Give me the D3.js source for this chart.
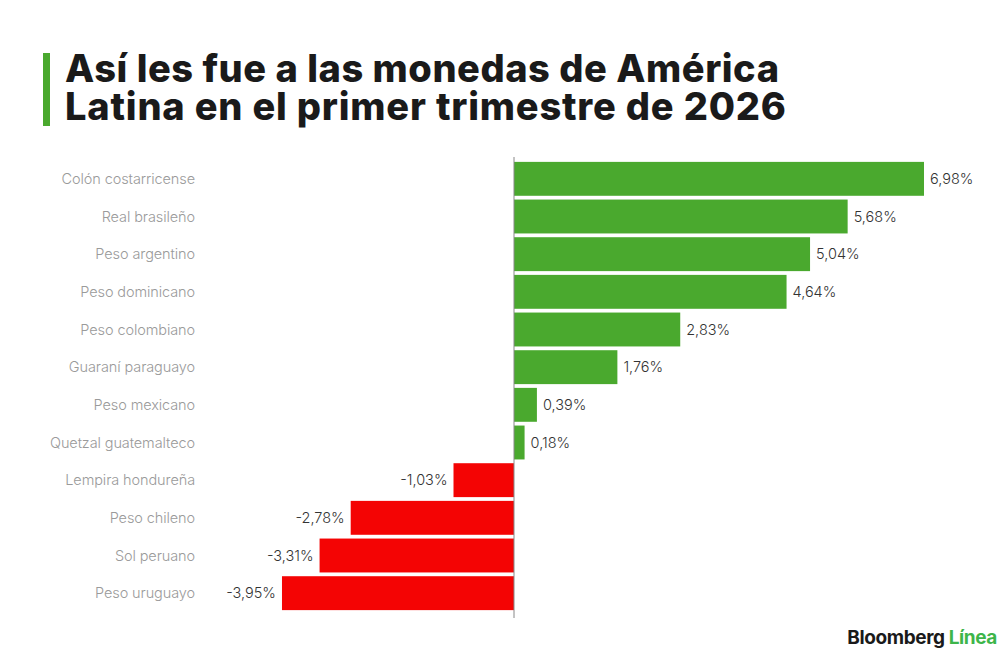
<!DOCTYPE html>
<html>
<head>
<meta charset="utf-8">
<script src="https://cdn.jsdelivr.net/npm/d3@7"></script>
<style>
  html, body { margin: 0; padding: 0; background: #fff; }
  svg { display: block; font-family: Inter, "Noto Sans", sans-serif; }
</style>
</head>
<body>
<svg id="chart" width="1000" height="660"></svg>
<script>
const titleLines = ["Así les fue a las monedas de América", "Latina en el primer trimestre de 2026"];
const titleWidths = [714, 721];

const currencies = [
  "Colón costarricense", "Real brasileño", "Peso argentino", "Peso dominicano",
  "Peso colombiano", "Guaraní paraguayo", "Peso mexicano", "Quetzal guatemalteco",
  "Lempira hondureña", "Peso chileno", "Sol peruano", "Peso uruguayo"
];
const changes = [6.98, 5.68, 5.04, 4.64, 2.83, 1.76, 0.39, 0.18, -1.03, -2.78, -3.31, -3.95];

const green = "#4aa92e";
const red = "#f40404";

const svg = d3.select("#chart");

const fmt = (v) => d3.format(".2f")(v).replace(".", ",").replace("−", "-") + "%";

// title
svg.append("rect")
  .attr("x", 43).attr("y", 53).attr("width", 7).attr("height", 73)
  .attr("fill", green);

svg.append("g")
  .selectAll("text")
  .data(titleLines)
  .join("text")
  .attr("x", 65)
  .attr("y", (d, i) => 82 + i * 38)
  .attr("font-size", 38)
  .attr("font-weight", 800)
  .attr("fill", "#1a1a1a")
  .text((d) => d)
  .each(function(d, i) {
    // nudge spacing so the line spans the same width as the original
    const w = this.getComputedTextLength();
    const extra = (titleWidths[i] - w) / (d.length - 1);
    d3.select(this).attr("letter-spacing", extra);
  });

// scales
const x = d3.scaleLinear().domain([0, 6.98]).range([514, 924]);
const y = d3.scaleBand()
  .domain(currencies)
  .range([160, 612])
  .paddingInner(0.1)
  .paddingOuter(0.05);

const rows = currencies.map((c, i) => ({ name: c, value: changes[i] }));

// labels on the left
svg.append("g")
  .selectAll("text")
  .data(rows)
  .join("text")
  .attr("x", 195)
  .attr("y", (d) => y(d.name) + y.bandwidth() / 2)
  .attr("dy", "0.35em")
  .attr("text-anchor", "end")
  .attr("font-size", 14.5)
  .attr("font-weight", 300)
  .attr("letter-spacing", -0.1)
  .attr("fill", "#9a9a9a")
  .text((d) => d.name);

// bars
svg.append("g")
  .selectAll("rect")
  .data(rows)
  .join("rect")
  .attr("x", (d) => Math.min(x(0), x(d.value)))
  .attr("y", (d) => y(d.name))
  .attr("width", (d) => Math.abs(x(d.value) - x(0)))
  .attr("height", y.bandwidth())
  .attr("fill", (d) => (d.value >= 0 ? green : red));

// zero line
svg.append("line")
  .attr("x1", x(0)).attr("x2", x(0))
  .attr("y1", 157).attr("y2", 618)
  .attr("stroke", "#888")
  .attr("stroke-width", 1);

// value labels
svg.append("g")
  .selectAll("text")
  .data(rows)
  .join("text")
  .attr("x", (d) => (d.value >= 0 ? x(d.value) + 6 : x(d.value) - 6))
  .attr("y", (d) => y(d.name) + y.bandwidth() / 2)
  .attr("dy", "0.35em")
  .attr("text-anchor", (d) => (d.value >= 0 ? "start" : "end"))
  .attr("font-size", 14.5)
  .attr("font-weight", 300)
  .attr("fill", "#333")
  .text((d) => fmt(d.value));

// logo
const logo = svg.append("text")
  .attr("x", 997)
  .attr("y", 644)
  .attr("text-anchor", "end")
  .attr("font-size", 19)
  .attr("font-weight", 700)
  .attr("letter-spacing", -0.4);
logo.append("tspan").attr("fill", "#1a1a1a").text("Bloomberg ");
logo.append("tspan").attr("fill", "#3db54a").text("Línea");
</script>
</body>
</html>
